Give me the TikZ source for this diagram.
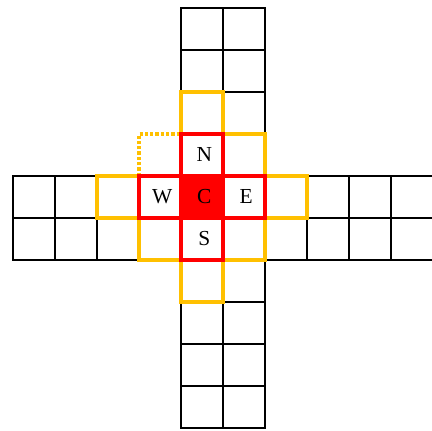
\documentclass[tikz,border=0pt]{standalone}
\usepackage{fontspec}
\setmainfont{Liberation Serif}
\definecolor{amber}{HTML}{FFC000}

\begin{document}
\begin{tikzpicture}[y=-1cm,
  cell/.style={draw=black,line width=1.3pt},
  ring/.style={draw=amber,line width=2.4pt},
  cross/.style={draw=red,line width=2.4pt},
  lbl/.style={font=\fontsize{14.5}{17}\selectfont,xshift=1.5pt}]

% frame
\useasboundingbox (-0.31,-0.19) rectangle (9.976,10.05);

% horizontal band
\foreach \i in {0,...,9}
  \foreach \j in {4,5}
    \draw[cell] (\i,\j) rectangle ++(1,1);

% vertical band
\foreach \j in {0,...,9}
  \foreach \i in {4,5}
    \draw[cell] (\i,\j) rectangle ++(1,1);

% outer neighbours
\foreach \i/\j in {4/2,5/3,2/4,6/4,3/5,5/5,4/6}
  \draw[ring] (\i,\j) rectangle ++(1,1);
\draw[ring,dash pattern=on 2.2pt off 1.4pt] (3,4) |- (4,3);

% inner neighbours
\foreach \i/\j in {4/3,3/4,5/4,4/5}
  \draw[cross] (\i,\j) rectangle ++(1,1);
\filldraw[cross,fill=red] (4,4) rectangle ++(1,1);

% labels
\node[lbl] (C) at (4.5,4.5) {C};
\node[lbl] (N) at (4.5,3.5) {N};
\node[lbl] (S) at (4.5,5.5) {S};
\node[lbl] (W) at (3.5,4.5) {W};
\node[lbl] (E) at (5.5,4.5) {E};

\end{tikzpicture}
\end{document}
